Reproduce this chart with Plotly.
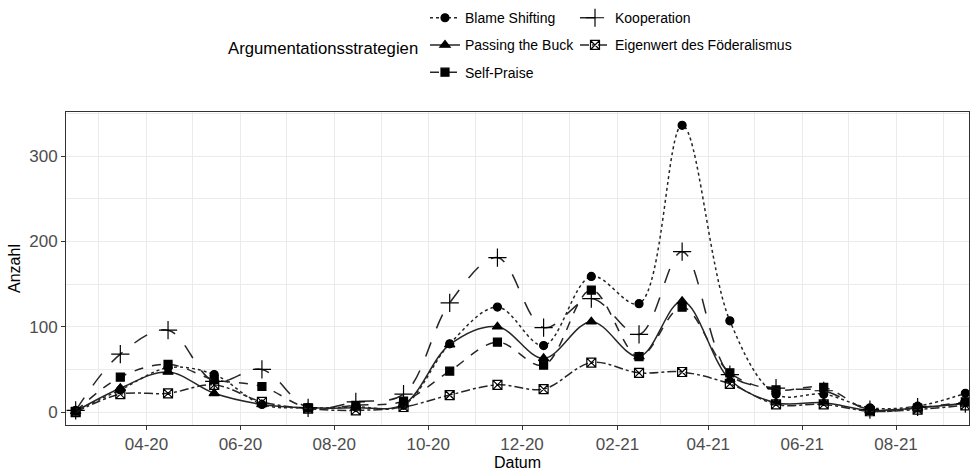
import plotly.graph_objects as go

months = ["2020-02-15", "2020-03-15", "2020-04-15", "2020-05-15", "2020-06-15",
          "2020-07-15", "2020-08-15", "2020-09-15", "2020-10-15", "2020-11-15",
          "2020-12-15", "2021-01-15", "2021-02-15", "2021-03-15", "2021-04-15",
          "2021-05-15", "2021-06-15", "2021-07-15", "2021-08-15", "2021-09-15"]

blame_shifting = [2, 26, 52, 44, 9, 5, 6, 8, 80, 123, 78, 159, 127, 336, 107, 21, 21, 5, 7, 22]
passing_the_buck = [1, 28, 47, 22, 9, 5, 5, 9, 79, 100, 63, 106, 65, 130, 38, 11, 11, 2, 5, 10]
self_praise = [1, 41, 56, 38, 30, 5, 8, 13, 48, 82, 55, 143, 65, 123, 46, 26, 29, 2, 5, 12]
kooperation = [2, 68, 96, 36, 50, 5, 12, 21, 128, 181, 99, 133, 91, 188, 44, 28, 25, 3, 6, 10]
eigenwert = [0, 21, 22, 32, 12, 4, 2, 6, 20, 32, 27, 58, 46, 47, 33, 9, 9, 1, 3, 8]

series = [
    ("Blame Shifting", blame_shifting, "dot", "circle", 8, "legend"),
    ("Passing the Buck", passing_the_buck, "solid", "triangle-up", 9, "legend"),
    ("Self-Praise", self_praise, "dash", "square", 8, "legend"),
    ("Kooperation", kooperation, "longdash", "cross-thin", 13, "legend2"),
    ("Eigenwert des Föderalismus", eigenwert, "dashdot", "square-x-open", 9, "legend2"),
]

FONT = "Liberation Sans, Arial, sans-serif"

fig = go.Figure()
for name, vals, dash, sym, size, leg in series:
    fig.add_trace(go.Scatter(
        x=months, y=vals, name=name, mode="lines+markers",
        line=dict(color="#262626", width=1.5, dash=dash, shape="spline", smoothing=1),
        marker=dict(symbol=sym, size=size, color="black",
                    line=dict(color="black", width=1.2)),
        legend=leg, legendgroup=name,
    ))

W, H = 971, 471
L, R, T, B = 66, 2, 103, 46
pw, ph = W - L - R, H - T - B

def px(x):
    return (x - L) / pw

def py(y):
    return (H - B - y) / ph

fig.update_layout(
    width=W, height=H,
    margin=dict(l=L, r=R, t=T, b=B),
    paper_bgcolor="white", plot_bgcolor="white",
    font=dict(family=FONT, color="black"),
    legend=dict(x=px(425), y=py(-10), xanchor="left", yanchor="top",
                orientation="v", font=dict(size=14, family=FONT),
                tracegroupgap=6, bgcolor="rgba(0,0,0,0)"),
    legend2=dict(x=px(575), y=py(-10), xanchor="left", yanchor="top",
                 orientation="v", font=dict(size=14, family=FONT),
                 tracegroupgap=6, bgcolor="rgba(0,0,0,0)"),
    annotations=[dict(text="Argumentationsstrategien", x=px(420), y=py(38),
                      xref="paper", yref="paper", xanchor="right", yanchor="middle",
                      showarrow=False, font=dict(size=16.7, family=FONT))],
    xaxis=dict(
        type="date", range=["2020-02-08 17:00", "2021-09-17 09:00"],
        tick0="2020-04-01", dtick="M2", tickformat="%m-%y",
        showgrid=True, gridcolor="#EBEBEB", gridwidth=1.1,
        minor=dict(tick0="2020-03-01", dtick="M1", showgrid=True,
                   gridcolor="#EBEBEB", gridwidth=0.6),
        showline=True, mirror=True, linecolor="#333333", linewidth=1,
        ticks="outside", ticklen=4, tickcolor="#333333",
        tickfont=dict(size=17, color="#4D4D4D", family=FONT),
        title=dict(text="Datum", font=dict(size=16, family=FONT), standoff=4),
        zeroline=False,
    ),
    yaxis=dict(
        range=[-15.1, 351.6], tick0=0, dtick=100,
        showgrid=True, gridcolor="#EBEBEB", gridwidth=1.1,
        minor=dict(tick0=50, dtick=50, showgrid=True,
                   gridcolor="#EBEBEB", gridwidth=0.6),
        showline=True, mirror=True, linecolor="#333333", linewidth=1,
        ticks="outside", ticklen=4, tickcolor="#333333",
        tickfont=dict(size=17, color="#4D4D4D", family=FONT),
        title=dict(text="Anzahl", font=dict(size=16, family=FONT), standoff=4),
        zeroline=False,
    ),
)

fig.write_html("out.html",
               config={"displayModeBar": False},
               post_script="document.body.style.margin='0px';document.body.style.overflow='hidden';")
